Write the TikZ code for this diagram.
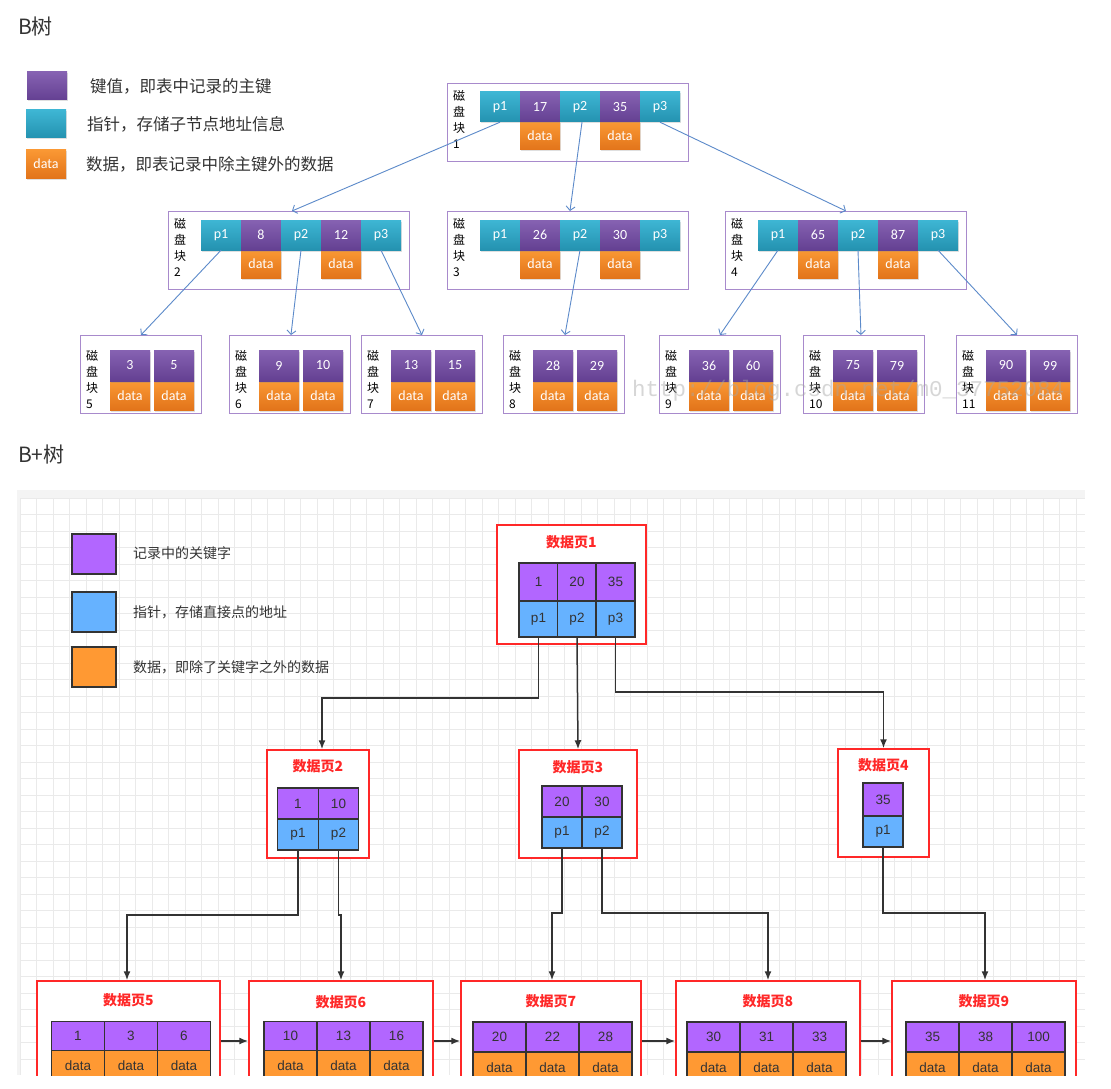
\documentclass[tikz,border=0pt]{standalone}
\usepackage{fontspec}
\setmainfont{Liberation Sans}
\newfontfamily\cjk{Noto Sans CJK SC}
\newfontfamily\carl{Carlito}
\newfontfamily\wmfont{Liberation Mono}
\usetikzlibrary{arrows.meta,shadows}
\definecolor{kpurT}{RGB}{134,98,178}
\definecolor{kpurB}{RGB}{100,64,146}
\definecolor{ktealT}{RGB}{62,182,212}
\definecolor{ktealB}{RGB}{36,146,176}
\definecolor{korT}{RGB}{250,152,52}
\definecolor{korB}{RGB}{226,116,26}
\definecolor{boxline}{RGB}{168,138,204}
\definecolor{blarrow}{RGB}{92,138,202}
\definecolor{txtdark}{RGB}{51,51,51}
\definecolor{ppur}{RGB}{178,102,255}
\definecolor{pblue}{RGB}{102,178,255}
\definecolor{porange}{RGB}{255,153,51}
\definecolor{pred}{RGB}{255,40,40}
\definecolor{gridc}{RGB}{234,234,234}
\definecolor{gridbg}{RGB}{244,244,244}
\tikzset{
  bcellbase/.style={inner sep=0pt, text=white, font=\carl\fontsize{14}{14}\selectfont,
    drop shadow={shadow xshift=1pt, shadow yshift=-1.5pt, opacity=0.25}},
  bkey/.style={bcellbase, top color=kpurT, bottom color=kpurB, minimum width=40pt, minimum height=30pt},
  bptr/.style={bcellbase, top color=ktealT, bottom color=ktealB, minimum width=40pt, minimum height=30pt},
  bdat/.style={bcellbase, top color=korT, bottom color=korB, minimum width=40pt, minimum height=28pt},
  bbox/.style={draw=boxline, line width=0.9pt, fill=white, inner sep=0pt},
  blabel/.style={inner sep=0pt, align=left, text=black, font=\cjk\fontsize{12}{16}\selectfont},
  blink/.style={draw=blarrow, line width=0.9pt, -{Straight Barb[length=4pt,width=9pt]}},
  legtext/.style={anchor=west, inner sep=0pt, text=txtdark},
  heading/.style={anchor=west, inner sep=0pt, text=txtdark, font=\cjk\fontsize{21}{21}\selectfont},
  pcell/.style={draw=txtdark, line width=1.4pt, inner sep=0pt, text=txtdark, font=\fontsize{13.5}{13.5}\selectfont},
  pk/.style={pcell, fill=ppur},
  pp/.style={pcell, fill=pblue},
  pd/.style={pcell, fill=porange},
  page/.style={draw=pred, line width=1.5pt, fill=white, inner sep=0pt},
  ptitle/.style={inner sep=0pt, text=pred, font=\cjk\bfseries\fontsize{14}{14}\selectfont},
  parrow/.style={draw=txtdark, line width=1.5pt, -{Latex[length=9pt,width=7pt]}},
  gridline/.style={draw=gridc, line width=0.8pt}
}
\newcommand\BInner[6]{%
  \node[bbox, minimum width=241pt, minimum height=78pt, anchor=north west] (#1) at (#2,#3) {};
  \node[blabel, anchor=north west] (#1lab) at (#2+6,#3+7) {磁\\盘\\块\\#4};
  \node[bdat] (#1d1) at (#2+93,#3+53) {data};
  \node[bdat] (#1d2) at (#2+173,#3+53) {data};
  \node[bptr] (#1p1) at (#2+53,#3+24) {p1};
  \node[bkey] (#1k1) at (#2+93,#3+24) {#5};
  \node[bptr] (#1p2) at (#2+133,#3+24) {p2};
  \node[bkey] (#1k2) at (#2+173,#3+24) {#6};
  \node[bptr] (#1p3) at (#2+213,#3+24) {p3};
}
\newcommand\BLeaf[6]{%
  \node[bbox, minimum width=121pt, minimum height=78pt, anchor=north west] (#1) at (#2,#3) {};
  \node[blabel, anchor=north west] (#1lab) at (#2+6,#3+15) {磁\\盘\\块\\#4};
  \node[bdat, minimum height=29pt] (#1d1) at (#2+50,#3+60.5) {data};
  \node[bdat, minimum height=29pt] (#1d2) at (#2+94,#3+60.5) {data};
  \node[bkey, minimum height=31pt] (#1k1) at (#2+50,#3+30.5) {#5};
  \node[bkey, minimum height=31pt] (#1k2) at (#2+94,#3+30.5) {#6};
}
\begin{document}
\begin{tikzpicture}[x=1pt,y=-1pt]
\useasboundingbox[fill=white] (0,0) rectangle (1111,1089);

% ---------------- B tree ----------------
\node[heading] (titleB) at (18,27) {B树};

\node[bkey, minimum width=40pt, minimum height=28pt] (legk) at (47,86) {};
\node[bptr, minimum width=40pt, minimum height=28pt] (legp) at (46,124) {};
\node[bdat, minimum width=40pt, minimum height=28pt] (legd) at (46,164) {data};
\node[legtext, font=\cjk\fontsize{16.5}{16.5}\selectfont] (legkt) at (90,86) {键值，即表中记录的主键};
\node[legtext, font=\cjk\fontsize{16.5}{16.5}\selectfont] (legpt) at (87,124) {指针，存储子节点地址信息};
\node[legtext, font=\cjk\fontsize{16.5}{16.5}\selectfont] (legdt) at (86,164) {数据，即表记录中除主键外的数据};

\BInner{n1}{447}{83}{1}{17}{35}
\BInner{n2}{168}{211}{2}{8}{12}
\BInner{n3}{447}{211}{3}{26}{30}
\BInner{n4}{725}{211}{4}{65}{87}

\BLeaf{l5}{80}{335}{5}{3}{5}
\BLeaf{l6}{229}{335}{6}{9}{10}
\BLeaf{l7}{361}{335}{7}{13}{15}
\BLeaf{l8}{503}{335}{8}{28}{29}
\BLeaf{l9}{659}{335}{9}{36}{60}
\BLeaf{l10}{803}{335}{10}{75}{79}
\BLeaf{l11}{956}{335}{11}{90}{99}

\draw[blink] (n1p1.south) -- ([xshift=3pt]n2.north);
\draw[blink] ([xshift=2pt]n1p2.south) -- ([xshift=2pt]n3.north);
\draw[blink] (n1p3.south) -- (n4.north);
\draw[blink] (n2p1.south) -- (l5.north);
\draw[blink] (n2p2.south) -- ([xshift=1pt]l6.north);
\draw[blink] (n2p3.south) -- (l7.north);
\draw[blink] (n3p2.south) -- ([xshift=1pt]l8.north);
\draw[blink] (n4p1.south) -- (l9.north);
\draw[blink] (n4p2.south) -- ([xshift=-3pt]l10.north);
\draw[blink] (n4p3.south) -- (l11.north);

\node[anchor=west, inner sep=0pt, text=gray!70, opacity=0.45, font=\wmfont\fontsize{22.5}{22.5}\selectfont] (wm) at (632,391) {http://blog.csdn.net/m0\_37752084};

% ---------------- B+ tree ----------------
\node[heading] (titleBP) at (18,455) {B+树};

\begin{scope}
\clip (17,490) rectangle (1085,1075);
\fill[gridbg] (17,490) rectangle (1085,1075);
\fill[white] (20,498) rectangle (1085,1075);
\foreach \gx in {20,36.5,...,1085} \draw[gridline] (\gx,498) -- (\gx,1075);
\foreach \gy in {498,514.5,...,1075} \draw[gridline] (20,\gy) -- (1085,\gy);

% legend
\node[pk, minimum width=44pt, minimum height=40pt] (lk) at (94,554) {};
\node[pp, minimum width=44pt, minimum height=40pt] (lp) at (94,612) {};
\node[pd, minimum width=44pt, minimum height=40pt] (ld) at (94,667) {};
\node[legtext, font=\cjk\fontsize{14}{14}\selectfont] (lkt) at (133,553) {记录中的关键字};
\node[legtext, font=\cjk\fontsize{14}{14}\selectfont] (lpt) at (133,612) {指针，存储直接点的地址};
\node[legtext, font=\cjk\fontsize{14}{14}\selectfont] (ldt) at (133,667) {数据，即除了关键字之外的数据};

% page 1
\node[page, minimum width=149pt, minimum height=119pt] (pg1) at (571.5,584.5) {};
\node[ptitle] (pg1t) at (571.5,542) {数据页1};
\node[pk, minimum width=39pt, minimum height=38pt] (b1k1) at (538.5,582) {1};
\node[pk, minimum width=39pt, minimum height=38pt] (b1k2) at (577,582) {20};
\node[pk, minimum width=39pt, minimum height=38pt] (b1k3) at (615.5,582) {35};
\node[pp, minimum width=39pt, minimum height=36pt] (b1p1) at (538.5,619) {p1};
\node[pp, minimum width=39pt, minimum height=36pt] (b1p2) at (577,619) {p2};
\node[pp, minimum width=39pt, minimum height=36pt] (b1p3) at (615.5,619) {p3};

% page 2
\node[page, minimum width=102pt, minimum height=108pt] (pg2) at (318,804) {};
\node[ptitle] (pg2t) at (318,766) {数据页2};
\node[pk, minimum width=40.5pt, minimum height=31pt] (b2k1) at (298,803.5) {1};
\node[pk, minimum width=40.5pt, minimum height=31pt] (b2k2) at (338.5,803.5) {10};
\node[pp, minimum width=40.5pt, minimum height=31pt] (b2p1) at (298,834.5) {p1};
\node[pp, minimum width=40.5pt, minimum height=31pt] (b2p2) at (338.5,834.5) {p2};

% page 3
\node[page, minimum width=118pt, minimum height=108pt] (pg3) at (578,804) {};
\node[ptitle] (pg3t) at (578,767) {数据页3};
\node[pk, minimum width=40pt, minimum height=31pt] (b3k1) at (562,801.5) {20};
\node[pk, minimum width=40pt, minimum height=31pt] (b3k2) at (602,801.5) {30};
\node[pp, minimum width=40pt, minimum height=31pt] (b3p1) at (562,832.5) {p1};
\node[pp, minimum width=40pt, minimum height=31pt] (b3p2) at (602,832.5) {p2};

% page 4
\node[page, minimum width=91pt, minimum height=108pt] (pg4) at (883.5,803) {};
\node[ptitle] (pg4t) at (883.5,765) {数据页4};
\node[pk, minimum width=40pt, minimum height=33pt] (b4k1) at (883,799.5) {35};
\node[pp, minimum width=40pt, minimum height=31pt] (b4p1) at (883,831.5) {p1};

% leaf pages
\node[page, minimum width=183pt, minimum height=120pt] (pg5) at (128.5,1041) {};
\node[page, minimum width=184pt, minimum height=120pt] (pg6) at (341,1041) {};
\node[page, minimum width=180pt, minimum height=120pt] (pg7) at (551,1041) {};
\node[page, minimum width=184pt, minimum height=120pt] (pg8) at (768,1041) {};
\node[page, minimum width=184pt, minimum height=120pt] (pg9) at (984,1041) {};
\node[ptitle] (pg5t) at (128.5,1000) {数据页5};
\node[ptitle] (pg6t) at (341,1002) {数据页6};
\node[ptitle] (pg7t) at (551,1001) {数据页7};
\node[ptitle] (pg8t) at (768,1001) {数据页8};
\node[ptitle] (pg9t) at (984,1001) {数据页9};

\node[pk, minimum width=53pt, minimum height=29pt] (b5k1) at (78,1036) {1};
\node[pk, minimum width=53pt, minimum height=29pt] (b5k2) at (131,1036) {3};
\node[pk, minimum width=53pt, minimum height=29pt] (b5k3) at (184,1036) {6};
\node[pd, minimum width=53pt, minimum height=31pt] (b5d1) at (78,1066) {data};
\node[pd, minimum width=53pt, minimum height=31pt] (b5d2) at (131,1066) {data};
\node[pd, minimum width=53pt, minimum height=31pt] (b5d3) at (184,1066) {data};

\node[pk, minimum width=53pt, minimum height=29pt] (b6k1) at (290.5,1036) {10};
\node[pk, minimum width=53pt, minimum height=29pt] (b6k2) at (343.5,1036) {13};
\node[pk, minimum width=53pt, minimum height=29pt] (b6k3) at (396.5,1036) {16};
\node[pd, minimum width=53pt, minimum height=31pt] (b6d1) at (290.5,1066) {data};
\node[pd, minimum width=53pt, minimum height=31pt] (b6d2) at (343.5,1066) {data};
\node[pd, minimum width=53pt, minimum height=31pt] (b6d3) at (396.5,1066) {data};

\node[pk, minimum width=53pt, minimum height=30pt] (b7k1) at (499.5,1037) {20};
\node[pk, minimum width=53pt, minimum height=30pt] (b7k2) at (552.5,1037) {22};
\node[pk, minimum width=53pt, minimum height=30pt] (b7k3) at (605.5,1037) {28};
\node[pd, minimum width=53pt, minimum height=31pt] (b7d1) at (499.5,1067.5) {data};
\node[pd, minimum width=53pt, minimum height=31pt] (b7d2) at (552.5,1067.5) {data};
\node[pd, minimum width=53pt, minimum height=31pt] (b7d3) at (605.5,1067.5) {data};

\node[pk, minimum width=53pt, minimum height=30pt] (b8k1) at (713.5,1037) {30};
\node[pk, minimum width=53pt, minimum height=30pt] (b8k2) at (766.5,1037) {31};
\node[pk, minimum width=53pt, minimum height=30pt] (b8k3) at (819.5,1037) {33};
\node[pd, minimum width=53pt, minimum height=31pt] (b8d1) at (713.5,1067.5) {data};
\node[pd, minimum width=53pt, minimum height=31pt] (b8d2) at (766.5,1067.5) {data};
\node[pd, minimum width=53pt, minimum height=31pt] (b8d3) at (819.5,1067.5) {data};

\node[pk, minimum width=53pt, minimum height=30pt] (b9k1) at (932.5,1037) {35};
\node[pk, minimum width=53pt, minimum height=30pt] (b9k2) at (985.5,1037) {38};
\node[pk, minimum width=53pt, minimum height=30pt] (b9k3) at (1038.5,1037) {100};
\node[pd, minimum width=53pt, minimum height=31pt] (b9d1) at (932.5,1067.5) {data};
\node[pd, minimum width=53pt, minimum height=31pt] (b9d2) at (985.5,1067.5) {data};
\node[pd, minimum width=53pt, minimum height=31pt] (b9d3) at (1038.5,1067.5) {data};

% connectors
\draw[parrow] (b1p1.south) |- (322,698) -- ([xshift=4pt]pg2.north);
\draw[parrow] (b1p2.south) -- (pg3.north);
\draw[parrow] (b1p3.south) |- (883.5,692) -- (pg4.north);
\draw[parrow] (b2p1.south) |- (127,915) -- ([xshift=-1.5pt]pg5.north);
\draw[parrow] (b2p2.south) |- (341,915) -- (pg6.north);
\draw[parrow] (b3p1.south) |- (552,913) -- ([xshift=1pt]pg7.north);
\draw[parrow] (b3p2.south) |- (768,913) -- (pg8.north);
\draw[parrow] (b4p1.south) |- (985,913) -- ([xshift=1pt]pg9.north);
\draw[parrow] (pg5.east) -- (pg6.west);
\draw[parrow] (pg6.east) -- (pg7.west);
\draw[parrow] (pg7.east) -- (pg8.west);
\draw[parrow] (pg8.east) -- (pg9.west);
\end{scope}
\end{tikzpicture}
\end{document}
